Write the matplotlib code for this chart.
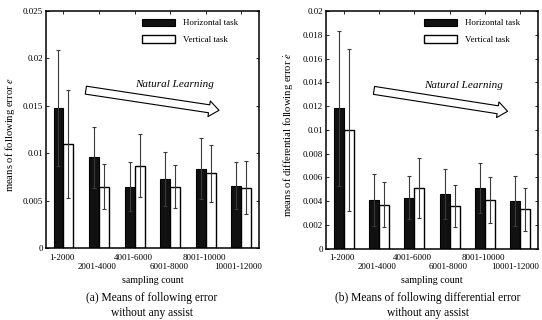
import matplotlib
matplotlib.use("Agg")
import matplotlib.pyplot as plt
import matplotlib.transforms as mtransforms
import numpy as np
from matplotlib.patches import Patch

plt.rcParams['font.family'] = ['Liberation Serif', 'DejaVu Serif']
plt.rcParams['mathtext.fontset'] = 'stix'

categories = ['1-2000', '2001-4000', '4001-6000', '6001-8000', '8001-10000', '10001-12000']

# (a) following error
a_horiz = [0.0148, 0.0096, 0.0065, 0.0073, 0.0084, 0.0066]
a_horiz_err = [0.0061, 0.0032, 0.0026, 0.0028, 0.0032, 0.0025]
a_vert = [0.0110, 0.0065, 0.0087, 0.0065, 0.0079, 0.0064]
a_vert_err = [0.0057, 0.0024, 0.0033, 0.0023, 0.0030, 0.0028]

# (b) differential following error
b_horiz = [0.0118, 0.0041, 0.0043, 0.0046, 0.0051, 0.0040]
b_horiz_err = [0.0065, 0.0022, 0.0018, 0.0021, 0.0021, 0.0021]
b_vert = [0.0100, 0.0037, 0.0051, 0.0036, 0.0041, 0.0033]
b_vert_err = [0.0068, 0.0019, 0.0025, 0.0018, 0.0019, 0.0018]

a_yticks = [0, 0.005, 0.01, 0.015, 0.02, 0.025]
b_yticks = [0, 0.002, 0.004, 0.006, 0.008, 0.01, 0.012, 0.014, 0.016, 0.018, 0.02]

W, H = 542, 320
fig = plt.figure(figsize=(W / 100, H / 100), dpi=100)

ax1 = fig.add_axes([45.7 / W, (H - 248.3) / H, 213.3 / W, 237.3 / H])
ax2 = fig.add_axes([326 / W, (H - 248.7) / H, 212 / W, 237.7 / H])

TFS = 6.5
bw = 0.28


def draw(ax, hv, he, vv, ve, yticks, ylabel, ylab_xy, leg_x, arrow, text_xy, last_shift):
    x = np.arange(len(categories))
    ekw = dict(ecolor='#3a3a3a', elinewidth=0.8, capsize=1.5, capthick=0.8)
    ax.bar(x - bw / 2, hv, bw, color='#111111', edgecolor='black', linewidth=0.8,
           yerr=he, error_kw=ekw, zorder=2)
    ax.bar(x + bw / 2, vv, bw, color='white', edgecolor='black', linewidth=1.0,
           yerr=ve, error_kw=ekw, zorder=2)
    ax.set_xlim(-0.5, len(categories) - 0.5)
    ax.set_ylim(yticks[0], yticks[-1])
    ax.set_yticks(yticks)
    ax.set_yticklabels(['%g' % t for t in yticks], fontsize=TFS)
    ax.set_xticks(x)
    ax.set_xticklabels(categories, fontsize=TFS)
    ax.tick_params(direction='in', top=True, right=True, length=2.5, width=0.6)
    ax.tick_params(axis='y', pad=2)
    ticks = ax.xaxis.get_major_ticks()
    for i, t in enumerate(ticks):
        t.set_pad(10.5 if i % 2 == 1 else 4.0)
    for i, t in enumerate(ticks):
        dx = -1.5 if i < len(ticks) - 1 else last_shift
        off = mtransforms.ScaledTranslation(dx / 100, 0, fig.dpi_scale_trans)
        t.label1.set_transform(t.label1.get_transform() + off)
    for s in ax.spines.values():
        s.set_linewidth(1.1)
    ax.set_xlabel('sampling count', fontsize=7.2, labelpad=3.5)
    ax.set_ylabel(ylabel, fontsize=7.7)
    ax.yaxis.set_label_coords(*ylab_xy)
    handles = [Patch(facecolor='#111111', edgecolor='black', linewidth=0.8),
               Patch(facecolor='white', edgecolor='black', linewidth=1.0)]
    ax.legend(handles, ['Horizontal task', 'Vertical task'], loc='upper left',
              bbox_to_anchor=(leg_x, 0.968), frameon=False, fontsize=TFS,
              handlelength=3.65, handleheight=0.9, handletextpad=0.9,
              labelspacing=0.85, borderpad=0, borderaxespad=0)
    (x0, y0), (x1, y1) = arrow
    ax.annotate('', xy=(x1, y1), xytext=(x0, y0),
                arrowprops=dict(arrowstyle='simple,head_width=0.95,head_length=0.6,tail_width=0.48',
                                fc='white', ec='black', lw=0.8, mutation_scale=12,
                                shrinkA=0, shrinkB=0))
    ax.text(text_xy[0], text_xy[1], 'Natural Learning', fontsize=8, style='italic',
            ha='center', va='center')


draw(ax1, a_horiz, a_horiz_err, a_vert, a_vert_err, a_yticks,
     r'means of following error $\mathit{e}$', (-0.133, 0.4775), 0.4515,
     ((0.63, 0.01666), (4.375, 0.01454)), (3.12, 0.0173), -3.5)
draw(ax2, b_horiz, b_horiz_err, b_vert, b_vert_err, b_yticks,
     r'means of differential following error $\dot{e}$', (-0.146, 0.478), 0.4637,
     ((0.858, 0.01332), (4.64, 0.01156)), (3.386, 0.01374), -5.0)

CFS = 8.3
fig.text(152 / W, 1 - 298 / H, '(a) Means of following error', ha='center', va='center', fontsize=CFS)
fig.text(152 / W, 1 - 313 / H, 'without any assist', ha='center', va='center', fontsize=CFS)
fig.text(428 / W, 1 - 298 / H, '(b) Means of following differential error', ha='center', va='center', fontsize=CFS)
fig.text(428 / W, 1 - 313 / H, 'without any assist', ha='center', va='center', fontsize=CFS)

fig.savefig('out.png', dpi=100)
